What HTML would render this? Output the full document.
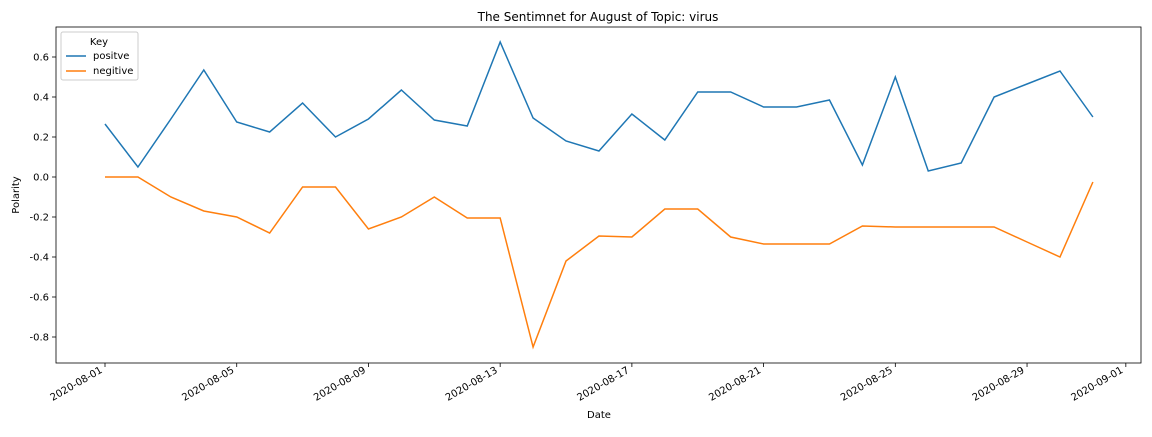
<!DOCTYPE html>
<html><head><meta charset="utf-8"><style>
body{margin:0;background:#fff;font-family:"Liberation Sans","DejaVu Sans",sans-serif;}
svg text{font-family:"DejaVu Sans","Liberation Sans",sans-serif;fill:#000;}
</style></head><body>
<svg id="chart" width="1152" height="432">
<rect x="0" y="0" width="1152" height="432" fill="#fff"/>
<text x="598" y="21" font-size="12" text-anchor="middle">The Sentimnet for August of Topic: virus</text>
<g id="axes"></g>
<g id="series"></g>
<rect x="56" y="27" width="1085" height="336" fill="none" stroke="#000" stroke-width="0.8"/>
<text x="599" y="418" font-size="10" text-anchor="middle">Date</text>
<text transform="translate(19,195) rotate(-90)" font-size="10" text-anchor="middle">Polarity</text>
<g>
<rect x="61" y="32" width="77" height="48" rx="2" fill="#fff" stroke="#ccc"/>
<text x="99" y="45" font-size="10" text-anchor="middle">Key</text>
<line x1="66" y1="56" x2="86" y2="56" stroke="#1f77b4" stroke-width="1.5"/>
<text x="93" y="59" font-size="10">positve</text>
<line x1="66" y1="71" x2="86" y2="71" stroke="#ff7f0e" stroke-width="1.5"/>
<text x="93" y="74" font-size="10">negitive</text>
</g>
</svg>
<script>
const days = Array.from({length:31},(_,i)=>i+1);
const positive = [0.265,0.05,0.29,0.535,0.275,0.225,0.37,0.2,0.29,0.435,0.285,0.255,0.675,0.295,0.18,0.13,0.315,0.185,0.425,0.425,0.35,0.35,0.385,0.06,0.5,0.03,0.07,0.4,0.465,0.53,0.3];
const negative = [0,0,-0.1,-0.17,-0.2,-0.28,-0.05,-0.05,-0.26,-0.2,-0.1,-0.205,-0.205,-0.85,-0.42,-0.295,-0.3,-0.16,-0.16,-0.3,-0.335,-0.335,-0.335,-0.245,-0.25,-0.25,-0.25,-0.25,-0.325,-0.4,-0.025];
const yTicks = [0.6,0.4,0.2,0.0,-0.2,-0.4,-0.6,-0.8];
const xTickDays = [1,5,9,13,17,21,25,29,32];
const xTickLabels = ["2020-08-01","2020-08-05","2020-08-09","2020-08-13","2020-08-17","2020-08-21","2020-08-25","2020-08-29","2020-09-01"];
const NS="http://www.w3.org/2000/svg";
const xs = d => 105 + (d-1)*32.93;
const ys = v => 177 - v*200;
const axes=document.getElementById('axes'), series=document.getElementById('series');
function mk(t,a,p){const e=document.createElementNS(NS,t);for(const k in a)e.setAttribute(k,a[k]);p.appendChild(e);return e;}
yTicks.forEach(v=>{
  mk('line',{x1:52,x2:56,y1:ys(v),y2:ys(v),stroke:'#000','stroke-width':0.8},axes);
  const t=mk('text',{x:49,y:ys(v)+3.5,'font-size':10,'text-anchor':'end'},axes);
  t.textContent=v.toFixed(1);
  
  
});
xTickDays.forEach((d,i)=>{
  const x=xs(d);
  mk('line',{x1:x,x2:x,y1:363,y2:367,stroke:'#000','stroke-width':0.8},axes);
  const t=mk('text',{x:x-2,y:372,'font-size':10,'text-anchor':'end',transform:`rotate(-30 ${x-2} 372)`},axes);
  t.textContent=xTickLabels[i];
  
  
});
function line(vals,color,name){
  const p=mk('polyline',{points:vals.map((v,i)=>xs(days[i])+','+ys(v)).join(' '),fill:'none',stroke:color,'stroke-width':1.5},series);
  
  
}
line(positive,'#1f77b4','positive-line');
line(negative,'#ff7f0e','negative-line');
</script>
</body></html>
